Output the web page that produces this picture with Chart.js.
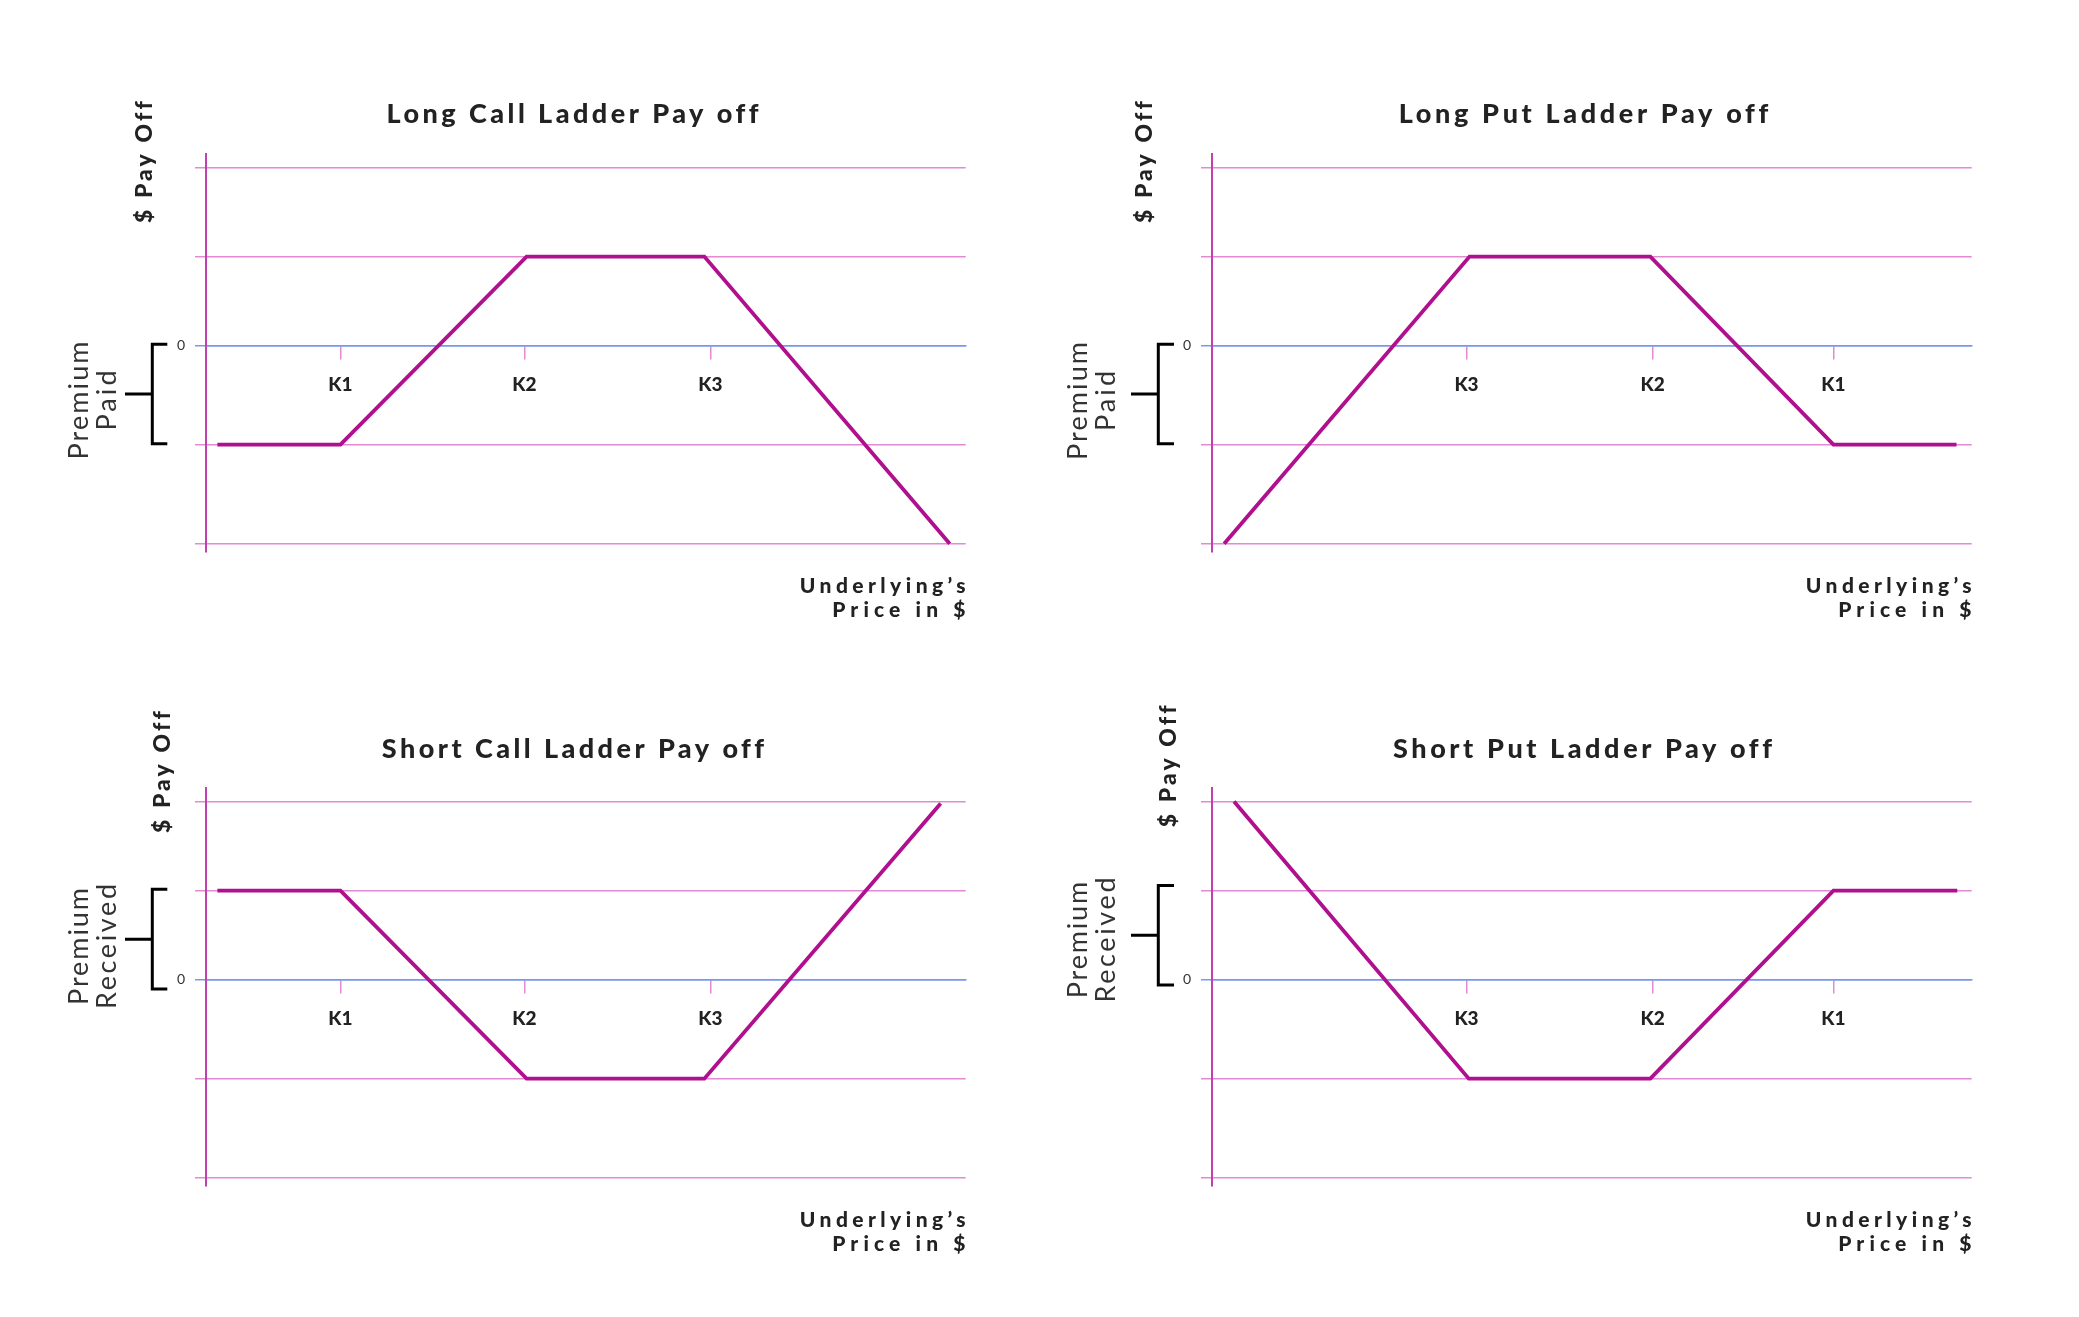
<!DOCTYPE html>
<html><head><meta charset="utf-8">
<script src="https://cdn.jsdelivr.net/npm/chart.js@4.4.0/dist/chart.umd.min.js"></script>
<style>
html,body{margin:0;padding:0;background:#fff;width:2079px;height:1317px;overflow:hidden}
canvas{position:absolute}
</style></head><body>
<canvas id="c0" width="1006" height="634" style="left:0px;top:0px"></canvas>
<canvas id="c1" width="1006" height="634" style="left:1006px;top:0px"></canvas>
<canvas id="c2" width="1006" height="634" style="left:0px;top:634px"></canvas>
<canvas id="c3" width="1006" height="634" style="left:1006px;top:634px"></canvas>
<script>
// ---- data ----
const yTickValues = [-2, -1, 0, 0.9, 1.8];

const callStrikes = [17.7, 41.9, 66.4];
const callStrikeLabels = ['K1', 'K2', 'K3'];
const putStrikes = [33.5, 58.0, 81.8];
const putStrikeLabels = ['K3', 'K2', 'K1'];

const longCallX = [1.5, 17.7, 42.2, 65.6, 97.9];
const longCallY = [-1, -1, 0.9, 0.9, -2];

const longPutX = [1.6, 33.9, 57.7, 81.8, 98.0];
const longPutY = [-2, 0.9, 0.9, -1, -1];

const shortCallX = [1.5, 17.7, 42.2, 65.6, 96.7];
const shortCallY = [0.9, 0.9, -1, -1, 1.78];

const shortPutX = [2.9, 33.8, 57.7, 81.8, 98.1];
const shortPutY = [1.8, -1, -1, 0.9, 0.9];

const xLabelLines = ['Underlying\u2019s', 'Price in $'];
const yLabelText = '$ Pay Off';

// ---- styles ----
const LINE = '#b0108e';
const GRID = 'rgb(226,138,212)';
const ZERO = 'rgb(122,150,238)';
const AXIS = 'rgb(192,64,178)';
const TEXT = '#222222';

function spacedText(ctx, text, x, y, align, font, targetW, color) {
  ctx.font = font;
  ctx.fillStyle = color;
  ctx.textBaseline = 'alphabetic';
  ctx.textAlign = 'left';
  if ('letterSpacing' in ctx) ctx.letterSpacing = '0px';
  const w0 = ctx.measureText(text).width;
  const n = [...text].length;
  let ls = (n > 1 && 'letterSpacing' in ctx) ? Math.max(0, (targetW - w0) / (n - 1)) : 0;
  if ('letterSpacing' in ctx) ctx.letterSpacing = ls + 'px';
  const w = w0 + ls * (n - 1);
  const sx = align === 'center' ? x - w / 2 : (align === 'right' ? x - w : x);
  ctx.fillText(text, sx, y);
  if ('letterSpacing' in ctx) ctx.letterSpacing = '0px';
}

const decor = {
  id: 'decor',
  afterDraw(chart, args, o) {
    const ctx = chart.ctx;
    const ys = chart.scales.y;
    ctx.save();
    // title
    spacedText(ctx, o.title, o.titleX, o.titleY, 'center', '900 27px Lato', o.titleW, TEXT);
    // x axis label
    spacedText(ctx, xLabelLines[0], o.underX, o.underY[0], 'right', '900 21px Lato', o.underW[0], TEXT);
    spacedText(ctx, xLabelLines[1], o.underX, o.underY[1], 'right', '900 21px Lato', o.underW[1], TEXT);
    // $ Pay Off (rotated)
    ctx.save();
    ctx.translate(o.payX, o.payY);
    ctx.rotate(-Math.PI / 2);
    spacedText(ctx, yLabelText, 0, 0, 'center', '900 23px Lato', 121, TEXT);
    ctx.restore();
    // premium text (rotated, two lines)
    ctx.save();
    ctx.translate(o.premX, o.premY);
    ctx.rotate(-Math.PI / 2);
    spacedText(ctx, o.prem[0], 0, 0, 'center', '400 27px Lato', o.premW[0], '#333333');
    spacedText(ctx, o.prem[1], 0, o.premLH, 'center', '400 27px Lato', o.premW[1], '#333333');
    ctx.restore();
    // bracket
    const top = ys.getPixelForValue(o.bracket[0]);
    const bot = ys.getPixelForValue(o.bracket[1]);
    const mid = (top + bot) / 2;
    ctx.strokeStyle = '#000';
    ctx.lineWidth = 3;
    ctx.lineJoin = 'miter';
    ctx.beginPath();
    ctx.moveTo(o.armX, top);
    ctx.lineTo(o.vX, top);
    ctx.lineTo(o.vX, bot);
    ctx.lineTo(o.armX, bot);
    ctx.moveTo(o.stubX, mid);
    ctx.lineTo(o.vX, mid);
    ctx.stroke();
    ctx.restore();
  }
};

function makeChart(id, xs, ys, strikes, strikeLabels, d) {
  const pts = xs.map((x, i) => ({x: x, y: ys[i]}));
  return new Chart(document.getElementById(id), {
    type: 'scatter',
    data: {datasets: [{
      data: pts, showLine: true, borderColor: LINE, backgroundColor: LINE,
      borderWidth: 3.8, pointRadius: 0, pointHoverRadius: 0, tension: 0, fill: false,
      borderJoinStyle: 'miter'
    }]},
    options: {
      responsive: false, animation: false, events: [],
      layout: {padding: {left: 146, top: 154, right: 40.3, bottom: 82}},
      plugins: {legend: {display: false}, tooltip: {enabled: false}, title: {display: false}, decor: d},
      scales: {
        x: {
          type: 'linear', position: {y: 0}, min: 0, max: 100,
          afterBuildTicks: s => { s.ticks = strikes.map(v => ({value: v})); },
          ticks: {
            autoSkip: false, maxRotation: 0, padding: 15,
            callback: (v, i) => strikeLabels[i],
            font: {family: 'Lato', size: 19, weight: '900'}, color: TEXT
          },
          grid: {drawOnChartArea: false, drawTicks: true, tickLength: 13, color: GRID, lineWidth: 1.5},
          border: {display: true, color: ZERO, width: 1.5}
        },
        y: {
          type: 'linear', position: 'left', min: -2.084, max: 1.936,
          afterBuildTicks: s => { s.ticks = yTickValues.map(v => ({value: v})); },
          afterFit: s => { s.width = 60; },
          ticks: {
            padding: 10, autoSkip: false,
            callback: v => (v === 0 ? '0' : ''),
            font: {family: 'Lato', size: 14}, color: '#333333'
          },
          grid: {
            drawTicks: true, tickLength: 11, lineWidth: 1.5,
            color: c => (c.tick && c.tick.value === 0 ? ZERO : GRID)
          },
          border: {display: true, color: AXIS, width: 2}
        }
      }
    },
    plugins: [decor]
  });
}

makeChart('c0', longCallX, longCallY, callStrikes, callStrikeLabels, {
  title: 'Long Call Ladder Pay off', titleX: 572, titleY: 123.3, titleW: 371,
  underX: 965.5, underY: [593.3, 617.3], underW: [165.7, 133.3],
  payX: 151.7, payY: 162.5,
  prem: ['Premium', 'Paid'], premX: 88.3, premY: 400.5, premLH: 27.4, premW: [118, 60],
  bracket: [0.015, -0.99], vX: 152.3, armX: 167.3, stubX: 125
});
makeChart('c1', longPutX, longPutY, putStrikes, putStrikeLabels, {
  title: 'Long Put Ladder Pay off', titleX: 577, titleY: 123.3, titleW: 368.6,
  underX: 965.5, underY: [593.3, 617.3], underW: [165.7, 133.3],
  payX: 145.7, payY: 162.5,
  prem: ['Premium', 'Paid'], premX: 80.7, premY: 401, premLH: 28.3, premW: [118, 60],
  bracket: [0.015, -0.99], vX: 152.3, armX: 168, stubX: 125
});
makeChart('c2', shortCallX, shortCallY, callStrikes, callStrikeLabels, {
  title: 'Short Call Ladder Pay off', titleX: 572.5, titleY: 124.3, titleW: 381.3,
  underX: 965.5, underY: [593.3, 617.3], underW: [165.7, 133.3],
  payX: 170, payY: 138.5,
  prem: ['Premium', 'Received'], premX: 88.3, premY: 312.5, premLH: 27.7, premW: [117, 125],
  bracket: [0.913, -0.094], vX: 152.3, armX: 167.3, stubX: 125
});
makeChart('c3', shortPutX, shortPutY, putStrikes, putStrikeLabels, {
  title: 'Short Put Ladder Pay off', titleX: 576, titleY: 124.3, titleW: 378,
  underX: 965.5, underY: [593.3, 617.3], underW: [165.7, 133.3],
  payX: 170, payY: 132.7,
  prem: ['Premium', 'Received'], premX: 80.7, premY: 306, premLH: 28.3, premW: [116.3, 125],
  bracket: [0.95, -0.053], vX: 152.3, armX: 168, stubX: 125
});
</script>
</body></html>
